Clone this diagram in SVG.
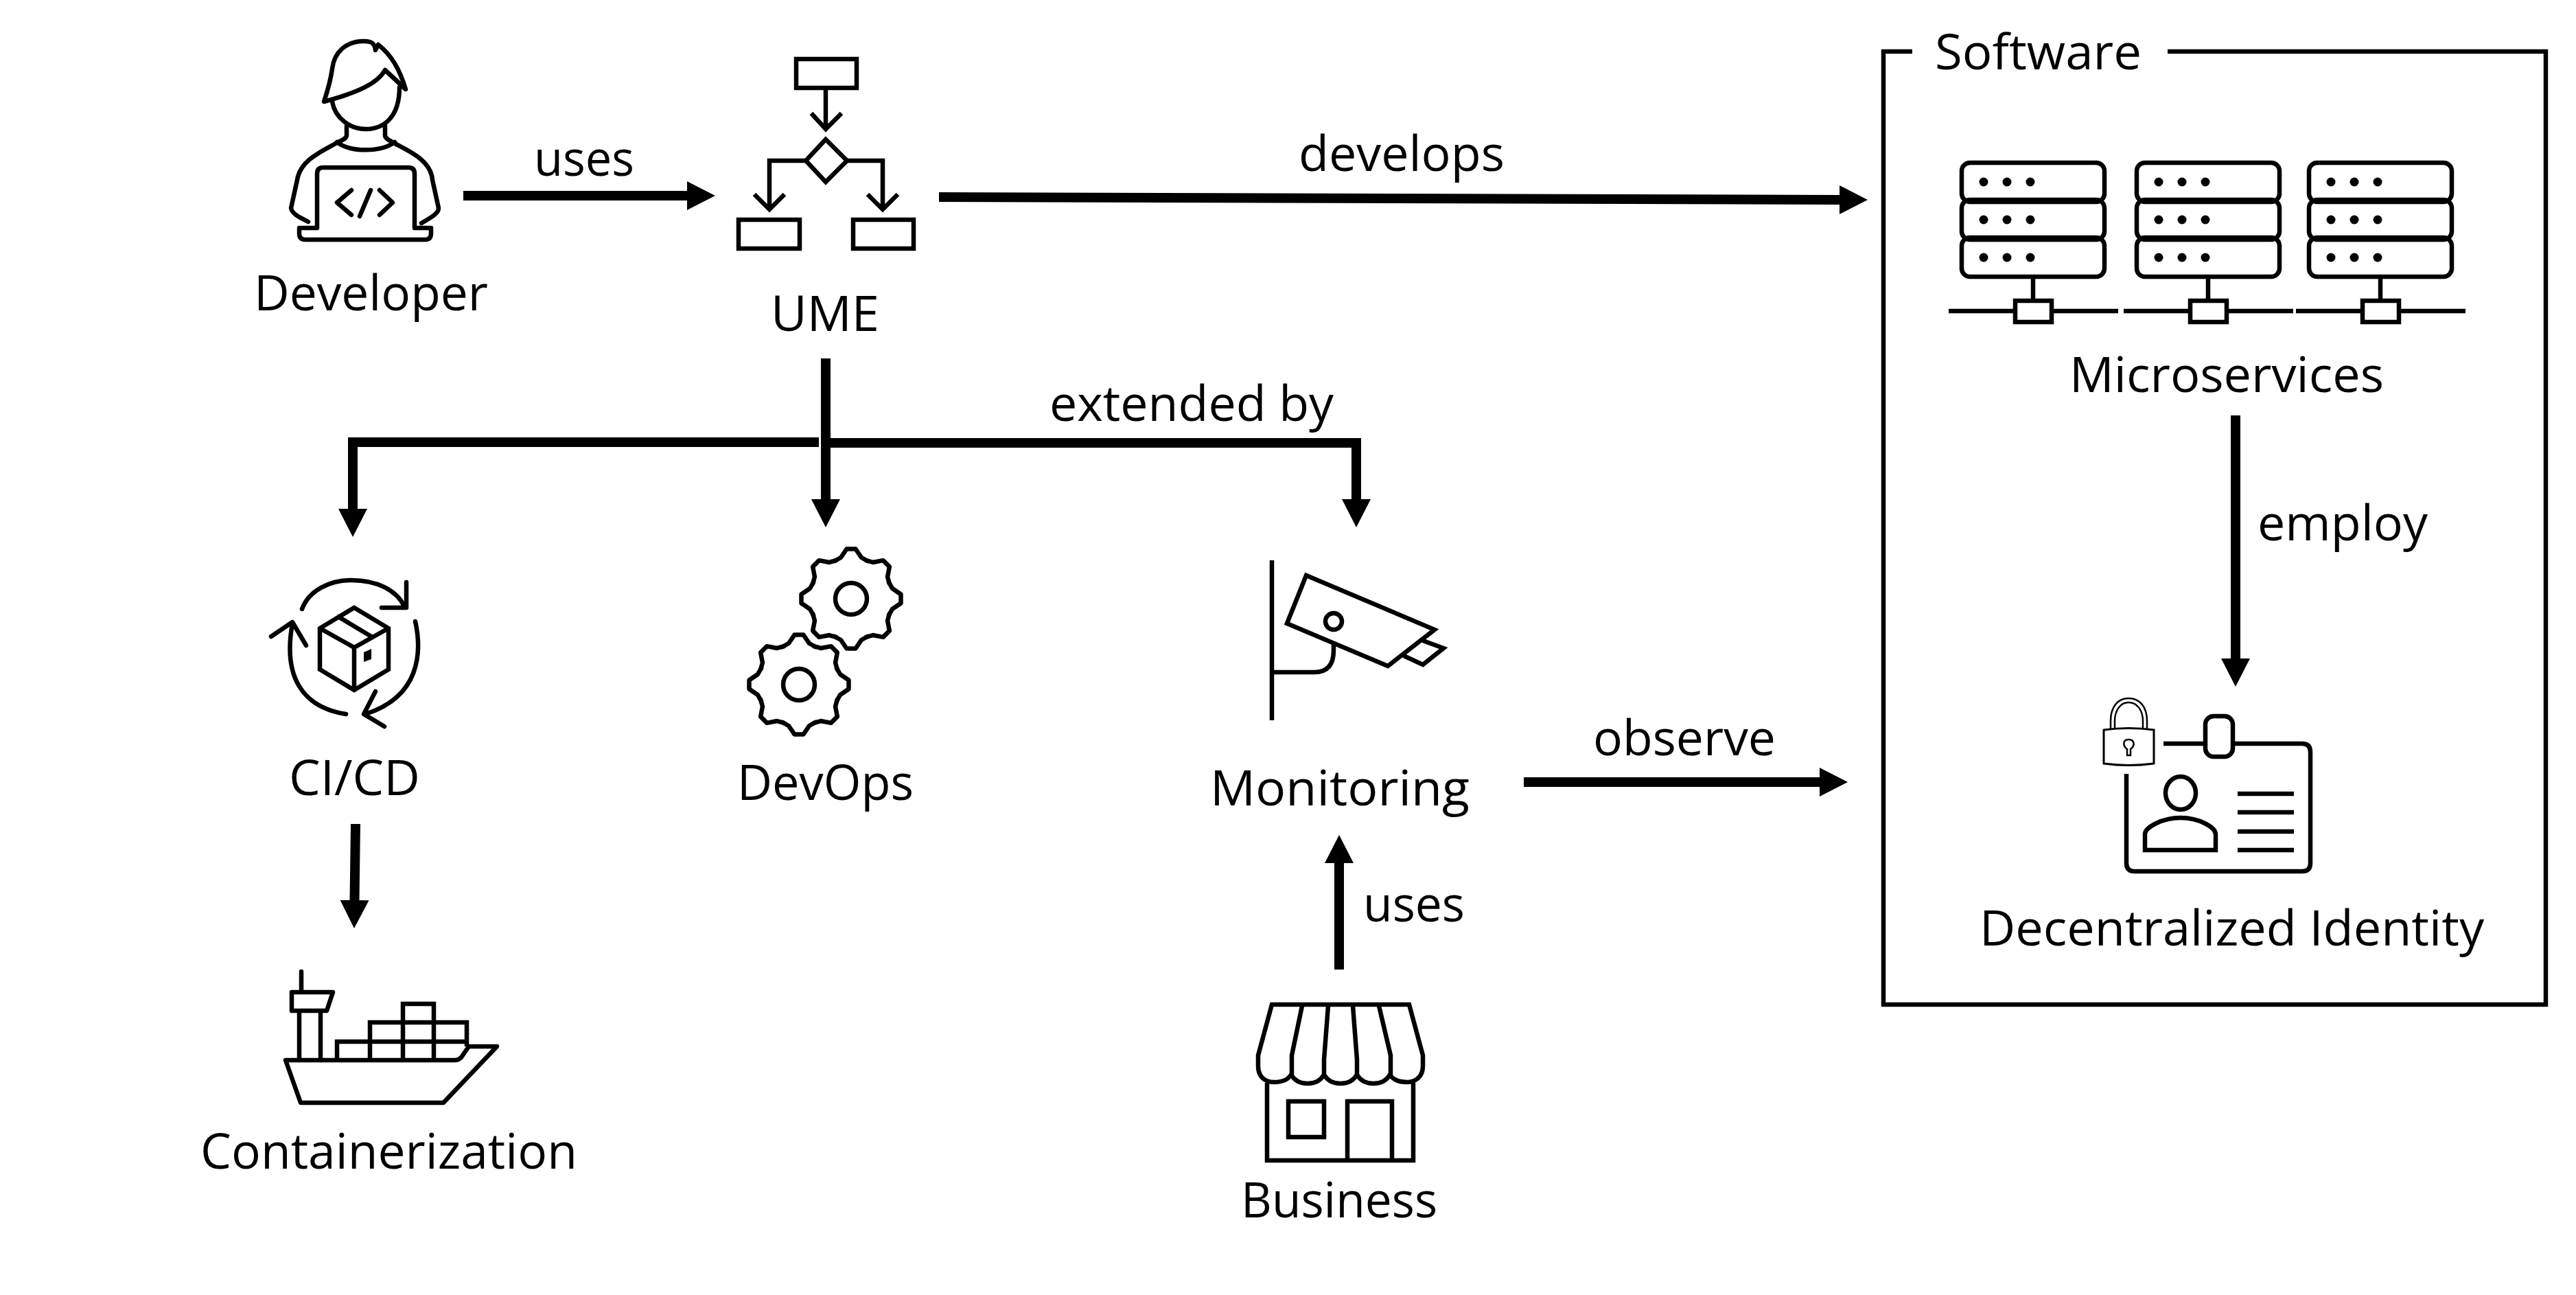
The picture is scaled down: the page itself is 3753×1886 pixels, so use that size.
<svg xmlns="http://www.w3.org/2000/svg" width="3753" height="1886" viewBox="0 0 3753 1886">
<style>
text{font-family:"Open Sans","Noto Sans","Liberation Sans",sans-serif;font-size:72px;fill:#000}
.i{fill:none;stroke:#000;stroke-width:6.5;stroke-linejoin:miter}
.r{fill:none;stroke:#000;stroke-width:6.5;stroke-linecap:round;stroke-linejoin:round}
.c{fill:none;stroke:#000;stroke-width:14}
.d{fill:#000}
</style>
<defs>
<marker id="ah" viewBox="0 0 41 42" refX="0" refY="21" markerUnits="userSpaceOnUse" markerWidth="41" markerHeight="42" orient="auto"><path d="M0 0L41 21L0 42Z" fill="#000"/></marker>
<g id="srv">
<rect x="3" y="3" width="208" height="57" rx="12" class="i"/>
<rect x="3" y="57" width="208" height="58" rx="12" class="i"/>
<rect x="3" y="112" width="208" height="57" rx="12" class="i"/>
<g class="d"><circle cx="35" cy="31" r="6.5"/><circle cx="69" cy="31" r="6.5"/><circle cx="103" cy="31" r="6.5"/><circle cx="35" cy="86" r="6.5"/><circle cx="69" cy="86" r="6.5"/><circle cx="103" cy="86" r="6.5"/><circle cx="35" cy="141" r="6.5"/><circle cx="69" cy="141" r="6.5"/><circle cx="103" cy="141" r="6.5"/></g>
<path d="M107 171V204" class="i"/>
<path d="M-16 219H81M134 219H231" class="i" stroke-width="8"/>
<rect x="81" y="204" width="53" height="31" class="i"/>
</g>
<path id="t" d="M-24 -55L-15 -60L-6.5 -72.5H6.5L15 -60L24 -55" class="r"/>
<g id="gear">
<use href="#t"/><use href="#t" transform="rotate(45)"/><use href="#t" transform="rotate(90)"/><use href="#t" transform="rotate(135)"/><use href="#t" transform="rotate(180)"/><use href="#t" transform="rotate(225)"/><use href="#t" transform="rotate(270)"/><use href="#t" transform="rotate(315)"/>
<circle r="23" class="i"/>
</g>
</defs>
<rect width="3753" height="1886" fill="#fff"/>

<g id="connectors">
<path class="c" d="M675 285H1001" marker-end="url(#ah)"/>
<path class="c" d="M1368 287L2680 291" marker-end="url(#ah)"/>
<path class="c" d="M1203 522V727" marker-end="url(#ah)"/>
<path class="c" d="M1193 644H514V741" marker-end="url(#ah)"/>
<path class="c" d="M1203 645H1976V727" marker-end="url(#ah)"/>
<path class="c" d="M518 1200L516.5 1311" marker-end="url(#ah)"/>
<path class="c" d="M3257 605V959" marker-end="url(#ah)"/>
<path class="c" d="M2220 1139H2651" marker-end="url(#ah)"/>
<path class="c" d="M1951 1412V1257" marker-end="url(#ah)"/>
</g>

<g id="edge-labels">
<text x="778" y="256" textLength="146" lengthAdjust="spacingAndGlyphs">uses</text>
<text x="1892" y="249" textLength="300" lengthAdjust="spacingAndGlyphs">develops</text>
<text x="1529" y="613" textLength="414" lengthAdjust="spacingAndGlyphs">extended by</text>
<text x="3289" y="787" textLength="248" lengthAdjust="spacingAndGlyphs">employ</text>
<text x="2321" y="1100" textLength="266" lengthAdjust="spacingAndGlyphs">observe</text>
<text x="1986" y="1342" textLength="148" lengthAdjust="spacingAndGlyphs">uses</text>
</g>

<g id="developer">
<path class="r" d="M472 148C478 130 482 115 484 100C487 75 505 60 530 60C540 60 546 62 547 73L551 65C570 80 582 100 591 130L561 102C550 122 520 135 472 148Z"/>
<path class="r" d="M484 148C488 172 510 188 533 188C558 188 582 172 582 127"/>
<path class="r" d="M505 183V197C505 203 495 205 487 210C465 222 437 235 433 262L424 303C425 312 440 318 449 323M561 183V197C561 203 570 205 577 210C600 222 628 235 630 262L639 303C639 312 625 318 614 325"/>
<path class="r" d="M491 207C510 222 555 222 575 207"/>
<path class="r" d="M462 332V253Q462 244 471 244H595Q604 244 604 253V332M436 332H462M604 332H628V340Q628 349 619 349H445Q436 349 436 340V332"/>
<path class="r" stroke-width="5" d="M512 277L491 295L512 313M553 277L572 295L553 313M540 277L524 315"/>
<text x="370" y="452" textLength="341" lengthAdjust="spacingAndGlyphs">Developer</text>
</g>

<g id="ume">
<rect x="1160" y="86" width="88" height="42" class="i"/>
<path class="i" d="M1203 130V188M1182 165L1203 188L1226 165"/>
<path class="i" d="M1203 203L1234 234L1203 265L1174 234Z"/>
<path class="i" d="M1174 234H1121V305M1099 283L1121 305L1143 283M1234 234H1286V305M1264 283L1286 305L1308 283"/>
<rect x="1076" y="320" width="89" height="42" class="i"/>
<rect x="1243" y="320" width="88" height="42" class="i"/>
<text x="1123" y="482" textLength="158" lengthAdjust="spacingAndGlyphs">UME</text>
</g>

<g id="software">
<path class="i" d="M2786 75H2744V1463H3709V75H3158"/>
<text x="2819" y="101" textLength="301" lengthAdjust="spacingAndGlyphs">Software</text>
</g>

<g id="microservices">
<use href="#srv" x="2855" y="234"/>
<use href="#srv" x="3110" y="234"/>
<use href="#srv" x="3361" y="234"/>
<text x="3015" y="571" textLength="458" lengthAdjust="spacingAndGlyphs">Microservices</text>
</g>

<g id="decentralized-identity">
<path class="i" d="M3152 1083H3354Q3366 1083 3366 1095V1257Q3366 1269 3354 1269H3110Q3098 1269 3098 1257V1127"/>
<rect x="3213" y="1043" width="40" height="59" rx="12" fill="#fff" stroke="#000" stroke-width="6.5"/>
<ellipse cx="3177" cy="1155" rx="22" ry="24" class="i"/>
<path class="i" d="M3125 1238V1215C3125 1205 3150 1191 3177 1191C3204 1191 3228 1205 3228 1215V1238Z"/>
<path class="i" d="M3260 1156H3342M3260 1183H3342M3260 1211H3342M3260 1238H3342"/>
<path d="M3075 1063V1050C3075 1030 3085 1017 3101 1017C3118 1017 3128 1030 3128 1050V1063M3081 1063V1050C3081 1035 3089 1023 3101 1023C3114 1023 3122 1035 3122 1050V1063" fill="none" stroke="#000" stroke-width="2.5"/>
<path d="M3065 1063Q3101 1058 3138 1063V1112Q3101 1117 3065 1112Z" fill="#fff" stroke="#000" stroke-width="3"/>
<path d="M3099 1100V1091C3092 1086 3093 1077 3101 1077C3110 1077 3111 1086 3104 1091V1100Z" fill="none" stroke="#000" stroke-width="2.5"/>
<text x="2884" y="1377" textLength="735" lengthAdjust="spacingAndGlyphs">Decentralized Identity</text>
</g>

<g id="cicd">
<path class="i" d="M516 885L566 915V975L516 1005L466 975V915ZM466 915L516 943L566 915M516 943V1005M491 897L541 927"/>
<path class="d" d="M530 950L541 945V960L530 964Z"/>
<path class="r" d="M440 887C450 860 480 845 512 845C550 845 578 860 589 883M592 848V885H556M605 905C615 950 612 1015 532 1040M547 1007L530 1040L560 1058M504 1040C440 1030 412 985 426 908M395 927L426 906L446 940"/>
<text x="421" y="1158" textLength="191" lengthAdjust="spacingAndGlyphs">CI/CD</text>
</g>

<g id="devops">
<use href="#gear" x="1240" y="872"/>
<use href="#gear" x="1164" y="997"/>
<text x="1074" y="1165" textLength="257" lengthAdjust="spacingAndGlyphs">DevOps</text>
</g>

<g id="monitoring">
<path class="i" d="M1853 816V1049M1903 838L2090 917L2022 970L1875 908ZM2073 933L2103 944L2073 968L2045 955"/>
<circle cx="1943" cy="905" r="12" class="i"/>
<path class="i" d="M1943 938V947Q1943 979 1915 979H1853"/>
<text x="1763" y="1173" textLength="378" lengthAdjust="spacingAndGlyphs">Monitoring</text>
</g>

<g id="containerization">
<path class="r" d="M439 1415V1442M425 1445H485L476 1472H425ZM436 1472V1544M467 1472V1544"/>
<path class="r" d="M416 1544H663Q668 1544 672 1540L683 1524H724L646 1606H438Z"/>
<path class="i" d="M491 1544V1517H680V1524M539 1544V1489H680V1517M587 1544V1462H632V1544"/>
<text x="292" y="1702" textLength="549" lengthAdjust="spacingAndGlyphs">Containerization</text>
</g>

<g id="business">
<path class="i" d="M1853 1463H2053L2073 1537V1553C2073 1568 2062 1576 2050 1576C2038 1576 2029 1572 2025 1565C2020 1574 2012 1578 2001 1578C1990 1578 1982 1574 1977 1565C1972 1574 1964 1578 1953 1578C1942 1578 1934 1574 1929 1565C1924 1574 1916 1578 1905 1578C1894 1578 1886 1574 1881 1565C1877 1572 1868 1576 1856 1576C1843 1576 1833 1568 1833 1553V1537Z"/>
<path class="i" d="M1897 1465L1882 1537V1565M1935 1465L1929 1543V1565M1971 1465L1977 1543V1565M2009 1465L2026 1537V1565"/>
<path class="i" d="M1846 1577V1690H2059V1577"/>
<rect x="1877" y="1604" width="52" height="52" class="i"/>
<path class="i" d="M1963 1690V1604H2028V1690"/>
<text x="1808" y="1773" textLength="286" lengthAdjust="spacingAndGlyphs">Business</text>
</g>
</svg>
